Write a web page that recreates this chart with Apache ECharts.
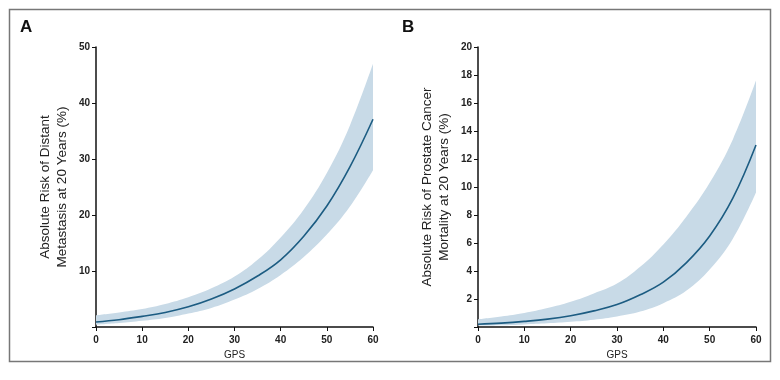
<!DOCTYPE html>
<html><head><meta charset="utf-8">
<script src="https://cdn.jsdelivr.net/npm/echarts@6/dist/echarts.min.js"></script>
<style>html,body{margin:0;padding:0;background:#fff}#c{width:780px;height:380px}</style>
</head><body><div id="c"></div>
<script>
const gps = [0,5,10,15,20,25,30,35,40,45,50,55,60];
const xTicks = [0,10,20,30,40,50,60];
// Panel A: distant metastasis
const aCenter = [0.9,1.3,1.9,2.6,3.6,5.0,6.8,9.1,12.0,16.2,21.6,28.6,37.1];
const aUpper  = [2.1,2.6,3.2,4.1,5.3,6.9,9.0,12.0,16.0,21.0,27.5,36.0,47.0];
const aLower  = [0.4,0.7,1.1,1.6,2.4,3.4,4.9,6.8,9.3,12.5,16.5,21.5,28.0];
const aYTicks = [10,20,30,40,50];
// Panel B: prostate cancer mortality
const bCenter = [0.2,0.28,0.4,0.56,0.8,1.15,1.6,2.3,3.2,4.6,6.5,9.2,13.0];
const bUpper  = [0.55,0.75,1.0,1.35,1.8,2.4,3.1,4.3,5.9,7.9,10.3,13.4,17.6];
const bLower  = [0.1,0.12,0.18,0.26,0.37,0.52,0.75,1.1,1.7,2.6,4.1,6.3,9.6];
const bYTicks = [2,4,6,8,10,12,14,16,18,20];

const titleA = 'Absolute Risk of Distant\nMetastasis at 20 Years (%)';
const titleB = 'Absolute Risk of Prostate Cancer\nMortality at 20 Years (%)';

const lineColor = '#1c5c82';
const bandColor = '#c8dae7';
const tickFont = {fontSize:10, fontWeight:'bold', color:'#222', fontFamily:'Liberation Sans, Arial, sans-serif'};

function isTick(v){ return xTicks.indexOf(Number(v)) >= 0; }
function xAxis(i){
  return {type:'category', gridIndex:i, data:gps.map(String), boundaryGap:false,
    name:'GPS', nameLocation:'middle', nameGap:22,
    nameTextStyle:{fontSize:10, color:'#222', fontFamily:'Liberation Sans, Arial, sans-serif'},
    axisLine:{show:true, lineStyle:{color:'#111', width:1.5}},
    axisTick:{show:true, length:4, lineStyle:{color:'#111'}, interval:function(idx, v){return isTick(v);}},
    axisLabel:Object.assign({margin:8, interval:function(idx, v){return isTick(v);}}, tickFont),
    splitLine:{show:false}};
}
function yAxis(i, max, interval, title, ticks){
  return {type:'value', gridIndex:i, min:0, max:max, interval:interval,
    name:title, nameLocation:'middle', nameGap:25, nameRotate:90,
    nameTextStyle:{fontSize:13.5, color:'#222', lineHeight:17, fontFamily:'Liberation Sans, Arial, sans-serif'},
    axisLine:{show:true, onZero:false, lineStyle:{color:'#111', width:1.5}},
    axisTick:{show:true, length:4, lineStyle:{color:'#111'}},
    axisLabel:Object.assign({margin:6, formatter:function(v){return ticks.indexOf(v)>=0 ? String(v) : '';}}, tickFont),
    splitLine:{show:false}};
}
function bandSeries(i, lower, upper, center, stackName){
  const diff = upper.map((u,k)=>+(u - lower[k]).toFixed(3));
  return [
    {type:'line', xAxisIndex:i, yAxisIndex:i, data:lower, stack:stackName, smooth:0.4,
      symbol:'none', lineStyle:{opacity:0}, silent:true},
    {type:'line', xAxisIndex:i, yAxisIndex:i, data:diff, stack:stackName, smooth:0.4,
      symbol:'none', lineStyle:{opacity:0}, areaStyle:{color:bandColor, opacity:1}, silent:true},
    {type:'line', xAxisIndex:i, yAxisIndex:i, data:center, smooth:0.4,
      symbol:'none', lineStyle:{color:lineColor, width:1.6}, silent:true}
  ];
}

const chart = echarts.init(document.getElementById('c'), null, {renderer:'canvas'});
chart.setOption({
  animation:false,
  backgroundColor:'#fff',
  grid:[
    {left:96, top:47, width:277, height:280},
    {left:478, top:47, width:278, height:280}
  ],
  xAxis:[xAxis(0), xAxis(1)],
  yAxis:[yAxis(0, 50, 10, titleA, aYTicks), yAxis(1, 20, 2, titleB, bYTicks)],
  series:[].concat(bandSeries(0, aLower, aUpper, aCenter, 'a'), bandSeries(1, bLower, bUpper, bCenter, 'b')),
  graphic:[
    {type:'rect', shape:{x:9.5, y:9.5, width:761, height:352}, style:{fill:'none', stroke:'#777', lineWidth:1.5}, silent:true},
    {type:'text', left:20, top:19, style:{text:'A', font:'bold 17px Liberation Sans, Arial, sans-serif', fill:'#111'}},
    {type:'text', left:402, top:19, style:{text:'B', font:'bold 17px Liberation Sans, Arial, sans-serif', fill:'#111'}}
  ]
});
</script></body></html>
